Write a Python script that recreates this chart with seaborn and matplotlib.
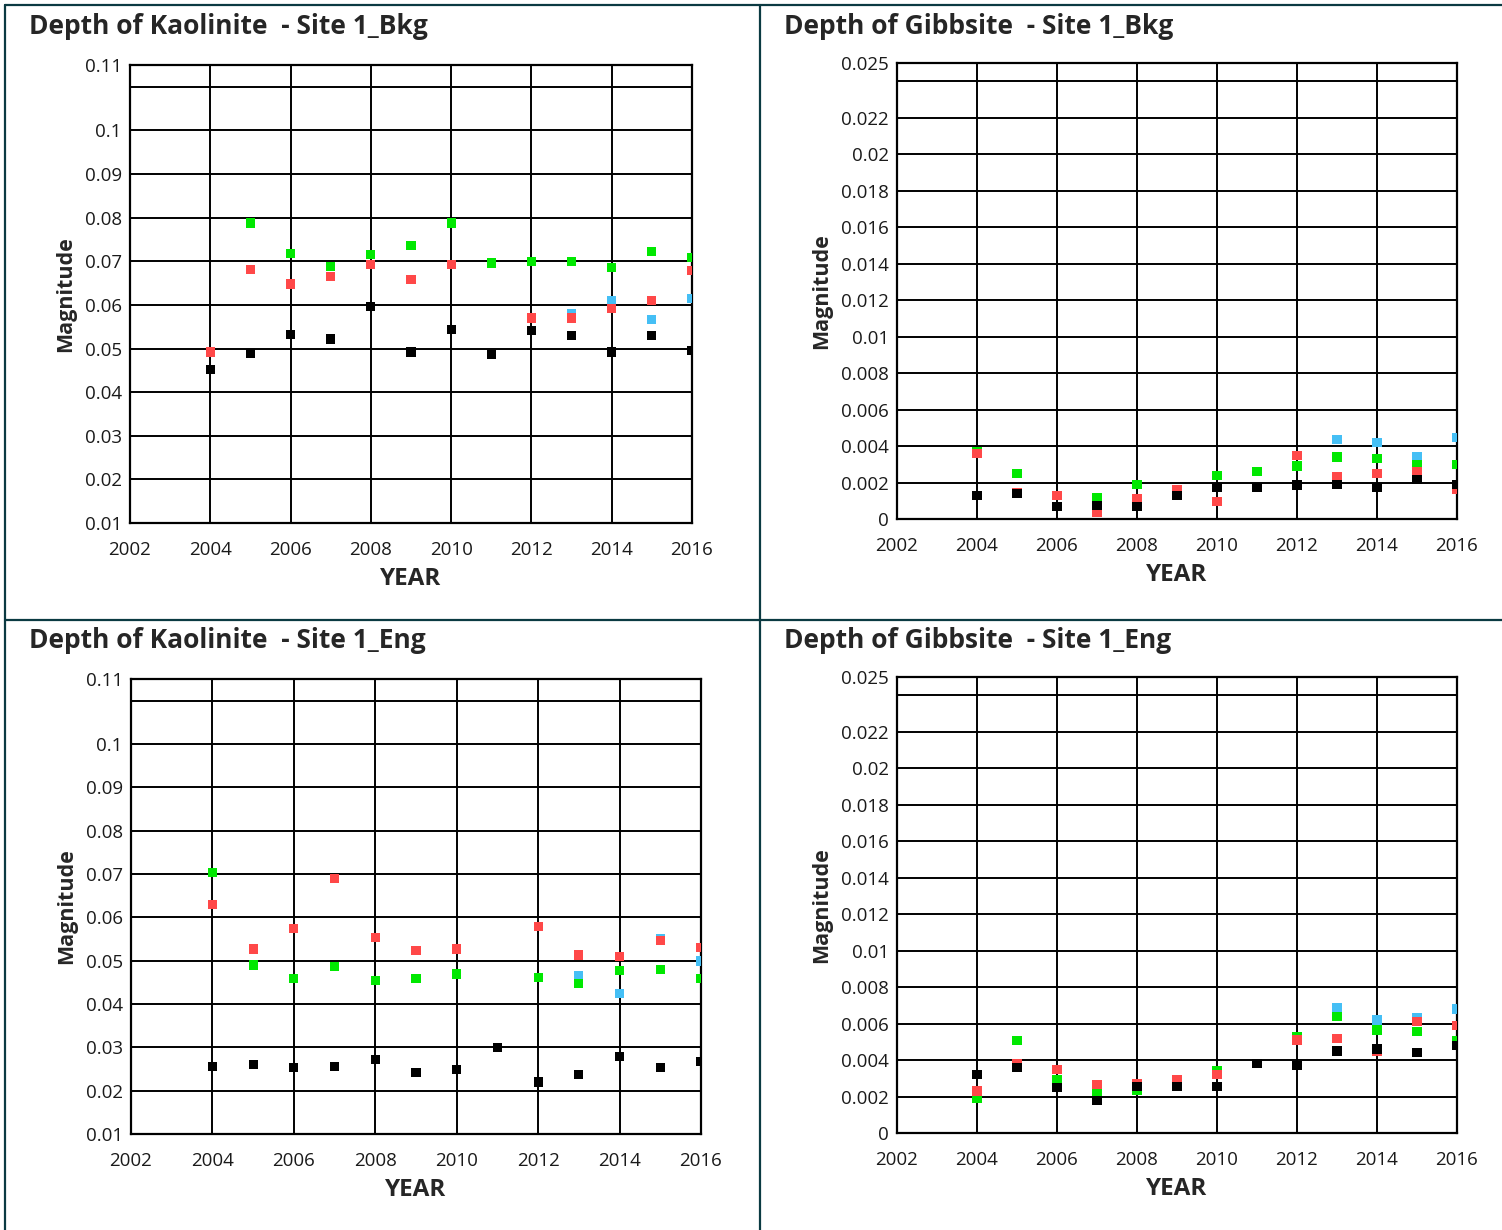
import pandas as pd
import matplotlib
matplotlib.use("Agg")
import matplotlib.pyplot as plt
import seaborn as sns
from matplotlib.lines import Line2D

# ============================================================
# 1. DATA
# ============================================================

years_all = list(range(2004, 2017))
years_no2011 = [2004, 2005, 2006, 2007, 2008, 2009, 2010, 2012, 2013, 2014, 2015, 2016]
years_blue = [2013, 2014, 2015, 2016]

# --- Kaolinite, Site 1_Bkg
kb_green_years = list(range(2005, 2017))
kb_green = [0.0788, 0.0718, 0.0688, 0.0715, 0.0737, 0.0788, 0.0696, 0.0700, 0.0700, 0.0685, 0.0722, 0.0708]
kb_red_years = years_no2011
kb_red = [0.0492, 0.0681, 0.0648, 0.0666, 0.0692, 0.0659, 0.0692, 0.0570, 0.0570, 0.0592, 0.0611, 0.0678]
kb_blue_years = years_blue
kb_blue = [0.0580, 0.0609, 0.0567, 0.0615]
kb_black_years = years_all
kb_black = [0.0452, 0.0488, 0.0533, 0.0522, 0.0596, 0.0492, 0.0544, 0.0486, 0.0541, 0.0530, 0.0492, 0.0530, 0.0496]

# --- Gibbsite, Site 1_Bkg
gb_green_years = [2004, 2005, 2007, 2008, 2010, 2011, 2012, 2013, 2014, 2015, 2016]
gb_green = [0.0037, 0.0025, 0.00115, 0.0019, 0.0024, 0.0026, 0.0029, 0.0034, 0.0033, 0.0030, 0.0030]
gb_red_years = years_no2011
gb_red = [0.0036, 0.00145, 0.00128, 0.00034, 0.00112, 0.0016, 0.00095, 0.00346, 0.00234, 0.0025, 0.0026, 0.00165]
gb_blue_years = years_blue
gb_blue = [0.00436, 0.00418, 0.0034, 0.00445]
gb_black_years = years_all
gb_black = [0.0013, 0.0014, 0.0007, 0.00076, 0.00068, 0.00128, 0.00173, 0.00173, 0.00186, 0.00189, 0.00173, 0.00218, 0.00187]

# --- Kaolinite, Site 1_Eng
ke_green_years = years_no2011
ke_green = [0.0703, 0.0490, 0.0458, 0.0487, 0.0454, 0.0458, 0.0469, 0.0461, 0.0447, 0.0477, 0.0480, 0.0458]
ke_red_years = years_no2011
ke_red = [0.0630, 0.0527, 0.0575, 0.0689, 0.0553, 0.0523, 0.0527, 0.0579, 0.0513, 0.0510, 0.0546, 0.0531]
ke_blue_years = years_blue
ke_blue = [0.0465, 0.0425, 0.0550, 0.0499]
ke_black_years = years_all
ke_black = [0.0256, 0.0260, 0.0253, 0.0256, 0.0272, 0.0242, 0.0249, 0.0300, 0.0220, 0.0238, 0.0278, 0.0253, 0.0268]

# --- Gibbsite, Site 1_Eng
ge_green_years = [2004, 2005, 2006, 2007, 2008, 2010, 2012, 2013, 2014, 2015, 2016]
ge_green = [0.0019, 0.00505, 0.0029, 0.0022, 0.00235, 0.0034, 0.0053, 0.00637, 0.00565, 0.00556, 0.00506]
ge_red_years = years_no2011
ge_red = [0.0023, 0.0038, 0.0035, 0.00266, 0.0027, 0.00294, 0.0032, 0.0051, 0.0052, 0.00445, 0.0061, 0.0059]
ge_blue_years = years_blue
ge_blue = [0.0069, 0.0062, 0.0063, 0.0068]
ge_black_years = years_all
ge_black = [0.0032, 0.0036, 0.0025, 0.0018, 0.00255, 0.00255, 0.00255, 0.0038, 0.0037, 0.0045, 0.0046, 0.0044, 0.0048]

# axis ticks
x_ticks = [2002, 2004, 2006, 2008, 2010, 2012, 2014, 2016]
kaol_ticks = [0.01, 0.02, 0.03, 0.04, 0.05, 0.06, 0.07, 0.08, 0.09, 0.1, 0.11, 0.115]
kaol_labels = ["0.01", "0.02", "0.03", "0.04", "0.05", "0.06", "0.07", "0.08", "0.09", "0.1", "", "0.11"]
gibb_ticks = [0, 0.002, 0.004, 0.006, 0.008, 0.01, 0.012, 0.014, 0.016, 0.018, 0.02, 0.022, 0.024, 0.025]
gibb_labels = ["0", "0.002", "0.004", "0.006", "0.008", "0.01", "0.012", "0.014", "0.016", "0.018",
               "0.02", "0.022", "", "0.025"]

# ============================================================
# 2. SETTINGS
# ============================================================

palette = {
    "blue": "#45bff5",
    "green": "#00e800",
    "red": "#ff4848",
    "black": "#000000",
}
draw_order = ["blue", "green", "red", "black"]

W, H = 1502, 1230
BORDER = "#0b3a42"
BOLD_FONT = ["Open Sans", "Lato", "DejaVu Sans"]

sns.set_style("white")
plt.rcParams["font.family"] = ["Open Sans", "DejaVu Sans"]


def make_df(series):
    rows = []
    for name in draw_order:
        yrs, vals = series[name]
        for yr, v in zip(yrs, vals):
            rows.append({"Year": yr, "Magnitude": v, "Series": name})
    return pd.DataFrame(rows)


panels = [
    {
        "title": "Depth of Kaolinite  - Site 1_Bkg",
        "box": (130, 65, 692, 523),
        "series": {"green": (kb_green_years, kb_green), "red": (kb_red_years, kb_red),
                   "blue": (kb_blue_years, kb_blue), "black": (kb_black_years, kb_black)},
        "ylim": (0.01, 0.115), "yticks": kaol_ticks, "ylabels": kaol_labels,
        "title_xy": (29, 27),
    },
    {
        "title": "Depth of Gibbsite  - Site 1_Bkg",
        "box": (897, 63, 1457, 519),
        "series": {"green": (gb_green_years, gb_green), "red": (gb_red_years, gb_red),
                   "blue": (gb_blue_years, gb_blue), "black": (gb_black_years, gb_black)},
        "ylim": (0, 0.025), "yticks": gibb_ticks, "ylabels": gibb_labels,
        "title_xy": (784, 27),
    },
    {
        "title": "Depth of Kaolinite  - Site 1_Eng",
        "box": (131, 679, 701, 1134),
        "series": {"green": (ke_green_years, ke_green), "red": (ke_red_years, ke_red),
                   "blue": (ke_blue_years, ke_blue), "black": (ke_black_years, ke_black)},
        "ylim": (0.01, 0.115), "yticks": kaol_ticks, "ylabels": kaol_labels,
        "title_xy": (29, 641),
    },
    {
        "title": "Depth of Gibbsite  - Site 1_Eng",
        "box": (897, 677, 1457, 1133),
        "series": {"green": (ge_green_years, ge_green), "red": (ge_red_years, ge_red),
                   "blue": (ge_blue_years, ge_blue), "black": (ge_black_years, ge_black)},
        "ylim": (0, 0.025), "yticks": gibb_ticks, "ylabels": gibb_labels,
        "title_xy": (784, 641),
    },
]

# ============================================================
# 3. PLOT
# ============================================================

fig = plt.figure(figsize=(W / 100, H / 100), dpi=100)

for p in panels:
    l, t, r, b = p["box"]
    ax = fig.add_axes([l / W, 1 - b / H, (r - l) / W, (b - t) / H])
    df = make_df(p["series"])

    sns.scatterplot(
        data=df, x="Year", y="Magnitude", hue="Series",
        palette=palette, marker="s", s=44, linewidth=0,
        legend=False, ax=ax, zorder=3,
    )

    ax.set_xlim(2002, 2016)
    ax.set_ylim(*p["ylim"])
    ax.set_xticks(x_ticks)
    ax.set_yticks(p["yticks"])
    ax.set_yticklabels(p["ylabels"])
    ax.tick_params(length=0, labelsize=13.5, pad=6, labelcolor="#1a1a1a")
    ax.tick_params(axis="x", pad=13)
    ax.grid(True, color="black", linewidth=1.4)
    ax.set_axisbelow(True)
    for sp in ax.spines.values():
        sp.set_color("black")
        sp.set_linewidth(1.6)

    ax.set_xlabel("YEAR", fontsize=17.5, fontweight="bold", family=BOLD_FONT, labelpad=6)
    ax.set_ylabel("Magnitude", fontsize=15.5, fontweight="bold", family=BOLD_FONT, labelpad=6)

    tx, ty = p["title_xy"]
    fig.text(tx / W, 1 - ty / H, p["title"], fontsize=19, fontweight="bold",
             family=BOLD_FONT, ha="left", va="center")

# panel borders
for x0, y0, x1, y1 in [(5, 5, 1502, 5), (5, 5, 5, 1230), (760, 5, 760, 1230), (5, 620, 1502, 620)]:
    fig.add_artist(Line2D([x0 / W, x1 / W], [1 - y0 / H, 1 - y1 / H],
                          color=BORDER, linewidth=1.6, transform=fig.transFigure))

fig.savefig("out.png", dpi=100)
